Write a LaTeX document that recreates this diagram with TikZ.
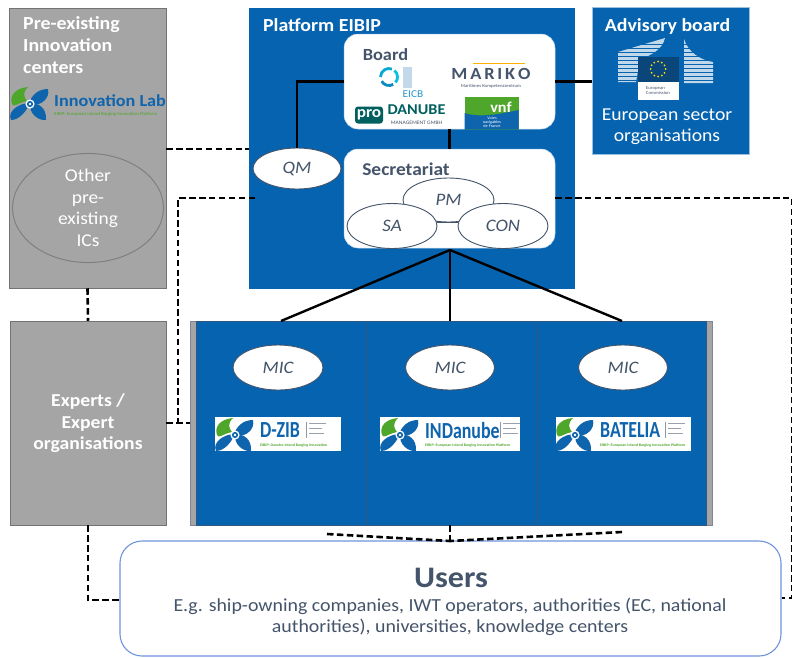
\documentclass[tikz,border=0pt]{standalone}
\usepackage{fontspec}
\usepackage{graphicx}
\setmainfont[FakeStretch=1.08]{Carlito}
\usetikzlibrary{backgrounds,shapes.geometric}
\definecolor{eibipblue}{HTML}{0563AF}
\definecolor{greybox}{HTML}{A5A5A5}
\definecolor{slate}{HTML}{44546A}
\definecolor{leafgreen}{HTML}{4EA72A}
\definecolor{usersline}{HTML}{6F94DC}
\definecolor{propblue}{HTML}{0F64AE}
\newcommand{\fs}[1]{\fontsize{#1}{#1}\selectfont}
\newcommand{\narrowtxt}[1]{\scalebox{.72}[1]{#1}}
\newcommand{\sidebars}[1]{%
  \fill[slate!60] (#1,422) rectangle ++(.6,16);
  \fill[slate!55] (#1+3,423) rectangle ++(17,1.2);
  \fill[slate!55] (#1+3,428) rectangle ++(13,1.2);
  \fill[slate!55] (#1+3,433) rectangle ++(15,1.2);
}
\tikzset{
  x=1pt,y=-1pt,
  greypanel/.style={rectangle,inner sep=0pt,draw=black!30!greybox,line width=.5pt,fill=greybox},
  bluepanel/.style={rectangle,inner sep=0pt,draw=slate!70!eibipblue,line width=.7pt,fill=eibipblue},
  roundpanel/.style={rectangle,rounded corners=14pt,inner sep=0pt,fill=white,draw=white!70!eibipblue,line width=.5pt},
  oval/.style={ellipse,inner sep=0pt,fill=white,draw=slate,line width=.9pt,text=slate,font=\fs{17.5}\itshape},
  solidline/.style={black,line width=2.4pt},
  dashline/.style={black,line width=2.6pt,dash pattern=on 6.5pt off 3.4pt},
  whitetitle/.style={text=white,font=\fs{18.4}\bfseries,align=left,inner sep=0pt},
  whitetext/.style={text=white,font=\fs{18.2},align=center,inner sep=0pt},
  boardtext/.style={text=slate,font=\fs{18}\bfseries,inner sep=0pt},
  logobox/.style={rectangle,inner sep=0pt,fill=white},
  logoname/.style={text=propblue,font=\fs{23}\bfseries,inner sep=0pt},
  logotag/.style={text=leafgreen,font=\fs{3.7}\bfseries,inner sep=0pt},
  prop/.pic={
    \fill[propblue] (-1,-1) .. controls (2,-9) and (8,-15) .. (18,-15) .. controls (20,-6) and (12,2) .. (0,1) -- cycle;
    \fill[propblue] (0,0) .. controls (8,-2) and (17,4) .. (16,16) .. controls (8,17) and (-1,9) .. (0,0) -- cycle;
    \fill[propblue] (0,-1) .. controls (-3,6) and (-10,16) .. (-19,16) .. controls (-23,8) and (-12,-1) .. (0,-1) -- cycle;
    \fill[leafgreen] (-3,-3) .. controls (-13,-1) and (-16,4) .. (-18,0) .. controls (-21,-9) and (-14,-16) .. (-2,-17) .. controls (-8,-11) and (-6,-7) .. (-3,-3) -- cycle;
    \fill[white] (0,0) circle (4.6);
    \fill[propblue] (0,0) circle (3.1);
    \fill[white] (0,0) circle (1.3);
  }
}
\begin{document}
\begin{tikzpicture}
\useasboundingbox (0,0) rectangle (792,657);
% Main panels
\node[greypanel,minimum width=157pt,minimum height=280pt] (pre) at (87.5,148) {};
\node[bluepanel,draw=eibipblue,minimum width=325pt,minimum height=280pt] (platform) at (411.5,148) {};
\node[bluepanel,draw=white!60!eibipblue,minimum width=157pt,minimum height=147pt] (advisory) at (670.5,81) {};
\node[greypanel,minimum width=156pt,minimum height=204pt] (experts) at (88,423) {};
% MIC group
\node[greypanel,draw=slate!70!white,minimum width=522pt,minimum height=204pt] (group) at (451,423) {};
\node[bluepanel,minimum width=170pt,minimum height=204pt] (mica) at (281,423) {};
\node[bluepanel,minimum width=170pt,minimum height=204pt] (micb) at (451,423) {};
\node[bluepanel,minimum width=170pt,minimum height=204pt] (micc) at (621,423) {};
% Users
\node[roundpanel,draw=usersline,line width=1.1pt,rounded corners=22pt,minimum width=661pt,minimum height=115pt] (users) at (450.5,598.5) {};
\node[text=slate,font=\fs{29.8}\bfseries,inner sep=0pt] (userstitle) at (451,578) {Users};
\node[text=slate,font=\fs{18.4},align=center,inner sep=0pt] (usersbody) at (450,617) {E.g. ship-owning companies, IWT operators, authorities (EC, national\\[3pt]authorities), universities, knowledge centers};
% Platform inner
\node[whitetitle] (platformtitle) at (322,25) {Platform EIBIP};
\node[roundpanel,minimum width=211pt,minimum height=95pt] (board) at (449.5,81.5) {};
\node[roundpanel,minimum width=211pt,minimum height=99pt] (sec) at (449.5,198.5) {};
\node[oval,minimum width=88pt,minimum height=41pt] (qm) at (297,168.5) {QM};
\node[boardtext,font=\fs{17}\bfseries] (boardtitle) at (385.5,55) {Board};
\node[boardtext] (sectitle) at (406,169) {Secretariat};
% Logos in the board
\draw[line width=2.8pt,propblue!75!cyan] (389,77) ++(60:8.5) arc (60:150:8.5);
\draw[line width=2.8pt,propblue!55!cyan] (389,77) ++(180:8.5) arc (180:290:8.5);
\draw[line width=2.8pt,propblue!40!cyan] (389,77) ++(310:8.5) arc (310:400:8.5);
\fill[propblue!25] (403,67) rectangle (412,88);
\node[text=cyan!60!propblue,font=\fs{10.5},inner sep=0pt] (eicb) at (413,94.5) {EICB};
\node[text=slate,font=\fs{17}\bfseries,inner sep=0pt] (mariko) at (491,73.5) {M\,A\,R\,I\,K\,O};
\fill[orange!60!yellow] (473,62.5) rectangle (525,64);
\node[text=slate,font=\fs{4.5},inner sep=0pt] (marikosub) at (491,86.5) {Maritimes Kompetenzzentrum};
\node[rectangle,rounded corners=3pt,fill=teal!75!black,text=white,font=\fs{16}\bfseries,inner sep=0pt,minimum width=28pt,minimum height=17pt] (prologo) at (369,115) {pro};
\node[text=teal!75!black,font=\fs{15}\bfseries,inner sep=0pt] (danube) at (416.5,110) {DANUBE};
\node[text=slate,font=\fs{5.2},inner sep=0pt] (danubesub) at (416.5,123) {MANAGEMENT GMBH};
\node[rectangle,fill=leafgreen,inner sep=0pt,minimum width=54pt,minimum height=33pt] (vnf) at (491.5,113) {};
\fill[propblue] (464.5,113) .. controls (480,118) and (500,114) .. (518.5,110) -- (518.5,129.5) -- (464.5,129.5) -- cycle;
\node[text=white,font=\fs{15}\bfseries,inner sep=0pt] (vnftext) at (501,107) {vnf};
\node[text=white,font=\fs{4},align=center,inner sep=0pt] (vnfsub) at (492,122) {Voies\\navigables\\de France};
% Secretariat ovals
\node[oval,minimum width=91pt,minimum height=44pt] (pm) at (448.5,200) {PM};
\node[oval,minimum width=90pt,minimum height=45pt] (sa) at (392,226) {SA};
\node[oval,minimum width=90pt,minimum height=45pt] (con) at (503,226) {CON};
\draw[slate,line width=1pt] (sa.east |- 0,222) -- (con.west |- 0,222);
% Pre-existing panel
\node[whitetitle,anchor=north west] (pretitle) at (23,16) {Pre-existing\\[3.6pt]Innovation\\[3.6pt]centers};
\pic[scale=1] at (30,104) {prop};
\node[text=propblue,font=\fs{16.8}\bfseries,inner sep=0pt,anchor=west] (innolab) at (54,101) {Innovation Lab};
\node[text=leafgreen,font=\fs{4.6},inner sep=0pt,anchor=west] (innosub) at (54,114) {EIBIP: European Inland Barging Innovation Platform};
\node[ellipse,draw=black!50,fill=greybox,line width=1pt,minimum width=151pt,minimum height=109pt,inner sep=0pt,text=white,font=\fs{18},align=center] (other) at (88,208) {Other\\[3.5pt]pre-\\[3.5pt]existing\\[3.5pt]ICs};
\node[whitetext,font=\fs{18.2}\bfseries] (expertstext) at (88,423.5) {Experts /\\[3.4pt]Expert\\[3.4pt]organisations};
% Advisory panel
\node[whitetitle] (advtitle) at (667.5,26) {Advisory board};
\fill[white!75!eibipblue] (618,52) -- (665,38) .. controls (662,50) and (652,54) .. (640,60) -- (636,82) -- (618,82) -- cycle;
\fill[white!75!eibipblue] (684,39) .. controls (688,52) and (700,60) .. (713,62) -- (713,83) -- (684,83) -- cycle;
\foreach \yy in {44,48,...,84}{\draw[eibipblue,line width=.7pt] (615,\yy) -- (716,\yy);}
\node[rectangle,fill=propblue!70!black,inner sep=0pt,minimum width=41pt,minimum height=25pt] (ecflag) at (658,69) {};
\foreach \a in {0,30,...,330}{\fill[yellow!80!orange] (ecflag.center) ++(\a:7.5) circle (1);}
\node[rectangle,fill=white,inner sep=0pt,minimum width=41pt,minimum height=18pt,text=slate,font=\fs{4.5},align=left] (ecname) at (658,90.5) {European\\Commission};
\node[whitetext] (advbody) at (667,127) {European sector\\[3pt]organisations};
% MIC ovals
\node[oval,minimum width=90pt,minimum height=45pt] (mic1) at (278,367.5) {MIC};
\node[oval,minimum width=89pt,minimum height=45pt] (mic2) at (450,367.5) {MIC};
\node[oval,minimum width=89pt,minimum height=45pt] (mic3) at (623,367.5) {MIC};
% MIC logos
\node[logobox,minimum width=126pt,minimum height=34pt] (logoa) at (278,434) {};
\pic[scale=1] at (235,435) {prop};
\node[logoname,anchor=west] (logoaname) at (260,430.5) {\narrowtxt{D-ZIB}};
\sidebars{306}
\node[logotag,anchor=west] (logoatag) at (260,445.5) {EIBIP: Danube Inland Barging Innovation};
\node[logobox,minimum width=140pt,minimum height=34pt] (logob) at (450,434) {};
\pic[scale=1] at (400,435) {prop};
\node[logoname,anchor=west] (logobname) at (425,430.5) {\narrowtxt{INDanube}};
\sidebars{500}
\node[logotag,anchor=west] (logobtag) at (425,445.5) {EIBIP: European Inland Barging Innovation Platform};
\node[logobox,minimum width=135pt,minimum height=34pt] (logoc) at (623,434) {};
\pic[scale=1] at (575,435) {prop};
\node[logoname,anchor=west] (logocname) at (600,430.5) {\narrowtxt{BATELIA}};
\sidebars{665}
\node[logotag,anchor=west] (logoctag) at (600,445.5) {EIBIP: European Inland Barging Innovation Platform};
% Named free ends
\coordinate (lefttop) at (178,198);
\coordinate (leftend) at (255,198);
\coordinate (leftbot) at (178,423);
\coordinate (righttop) at (792,198);
\coordinate (rightbot) at (792,598);
\coordinate (hub) at (450,250);
\coordinate (fana) at (281,321);
\coordinate (fanb) at (450,321);
\coordinate (fanc) at (622,321);
\coordinate (usersa) at (327,534);
\coordinate (usersb) at (622,532);
\coordinate (usersc) at (450,525);
\coordinate (userstop) at (450,541);
% Solid connectors
\draw[solidline] (board.west) -| (qm.north);
\draw[solidline] (board.east) -- (advisory.west |- board.east);
\draw[solidline] (board.south) -- (sec.north);
\draw[solidline] (hub) -- (fana);
\draw[solidline] (hub) -- (fanb);
\draw[solidline] (hub) -- (fanc);
% Dashed connectors
\draw[dashline] (pre.east |- 0,149) -- (platform.west |- 0,149);
\draw[dashline] (leftend) -- (lefttop) -- (leftbot);
\draw[dashline] (experts.east |- leftbot) -- (group.west |- leftbot);
\draw[dashline] (pre.south) -- (experts.north);
\draw[dashline] (experts.south) |- (users.west |- 0,600);
\draw[dashline] (sec.east |- 0,198) -- (righttop) -- (rightbot) -- (users.east |- rightbot);
\draw[dashline] (usersa) -- (userstop);
\draw[dashline] (usersb) -- (userstop);
\draw[dashline] (usersc) -- (userstop);
\end{tikzpicture}
\end{document}
